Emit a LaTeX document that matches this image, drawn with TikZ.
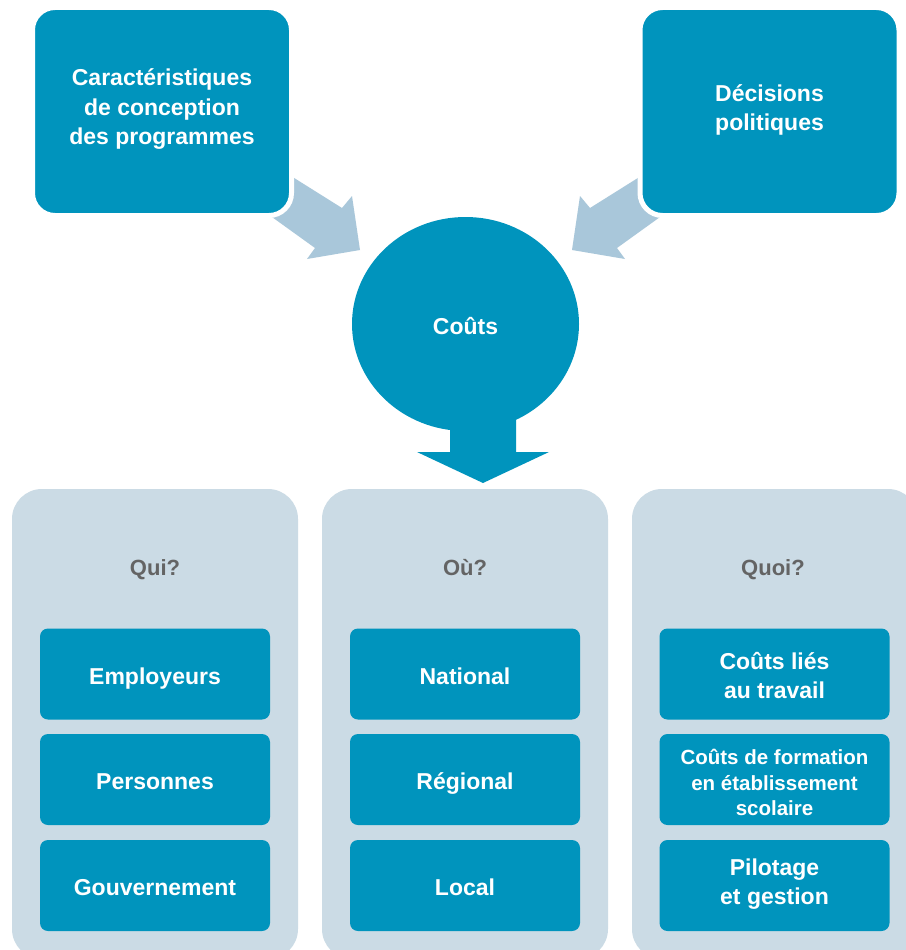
\documentclass[tikz,border=0pt]{standalone}
\usepackage{fontspec}
\setmainfont{Liberation Sans}
\usetikzlibrary{shapes.geometric}
\definecolor{teal}{RGB}{0,148,189}
\definecolor{panelbg}{RGB}{203,219,229}
\definecolor{arrowbg}{RGB}{169,199,218}
\definecolor{headgrey}{RGB}{100,100,100}
\tikzset{
  topbox/.style={fill=teal, draw=white, line width=5pt, rounded corners=22.5pt,
    minimum width=259pt, minimum height=208pt, inner sep=0pt},
  panel/.style={fill=panelbg, rounded corners=30pt, minimum width=286pt,
    minimum height=470pt, inner sep=0pt},
  itembox/.style={fill=teal, rounded corners=8pt, minimum width=230pt,
    minimum height=91pt, inner sep=0pt, text=white,
    font=\bfseries\fontsize{23}{29}\selectfont, align=center},
  oneline/.style={text height=20pt, text depth=0pt},
  boxtext/.style={text=white, font=\bfseries\fontsize{23}{29.5}\selectfont,
    align=center, inner sep=0pt},
  header/.style={text=headgrey, font=\bfseries\fontsize{22}{26}\selectfont,
    anchor=base, inner sep=0pt},
  blockarrow/.style={fill=arrowbg},
}
\begin{document}
\begin{tikzpicture}[x=1pt,y=-1pt]
\useasboundingbox (0,0) rectangle (905,950);
\fill[white] (0,0) rectangle (905,950);

% arrows feeding the circle (drawn first, boxes sit on top)
\fill[blockarrow] (265,212) -- (283,171) -- (342,208) -- (352,196)
  -- (360,250) -- (307,259) -- (315,248) -- cycle;
\fill[blockarrow] (667,212) -- (649,171) -- (590,208) -- (580,196)
  -- (572,250) -- (625,259) -- (617,248) -- cycle;

% top boxes
\node[topbox] (design) at (162,111.5) {};
\node[boxtext] at ([yshift=2pt]design.center)
  {Caractéristiques\\de conception\\des programmes};
\node[topbox] (policy) at (769.5,111.5) {};
\node[boxtext] at ([yshift=1.5pt]policy.center) {Décisions\\politiques};

% central circle and its down arrow
\node[fill=teal, ellipse, minimum width=227pt, minimum height=214pt, inner sep=0pt,
  text=white, font=\bfseries\fontsize{23}{28}\selectfont, oneline]
  (costs) at (465.5,324) {Coûts};
\fill[teal] (450,400) -- (516,400) -- (516,452) -- (549,452) -- (483,483)
  -- (417,452) -- (450,452) -- cycle;

% three panels
\node[panel] (who) at (155,724) {};
\node[panel] (where) at (465,724) {};
\node[panel] (what) at (775,724) {};

\node[header] (whoh) at (155,575) {Qui?};
\node[header] (whereh) at (465,575) {Où?};
\node[header] (whath) at (773,575) {Quoi?};

% items
\node[itembox, oneline] (w1) at (155,674) {Employeurs};
\node[itembox, oneline] (w2) at (155,779.5) {Personnes};
\node[itembox, oneline] (w3) at (155,885.5) {Gouvernement};

\node[itembox, oneline] (p1) at (465,674) {National};
\node[itembox, oneline] (p2) at (465,779.5) {Régional};
\node[itembox, oneline] (p3) at (465,885.5) {Local};

\node[itembox] (c1) at (774.5,674) {};
\node[boxtext, font=\bfseries\fontsize{23}{29}\selectfont]
  at ([yshift=-2pt]c1.center) {Coûts liés\\au travail};
\node[itembox] (c2) at (774.5,779.5) {};
\node[boxtext, font=\bfseries\fontsize{20.5}{25.5}\selectfont]
  at ([yshift=-3pt]c2.center) {Coûts de formation\\en établissement\\scolaire};
\node[itembox] (c3) at (774.5,885.5) {};
\node[boxtext, font=\bfseries\fontsize{23}{29}\selectfont]
  at ([yshift=1.5pt]c3.center) {Pilotage\\et gestion};
\end{tikzpicture}
\end{document}
